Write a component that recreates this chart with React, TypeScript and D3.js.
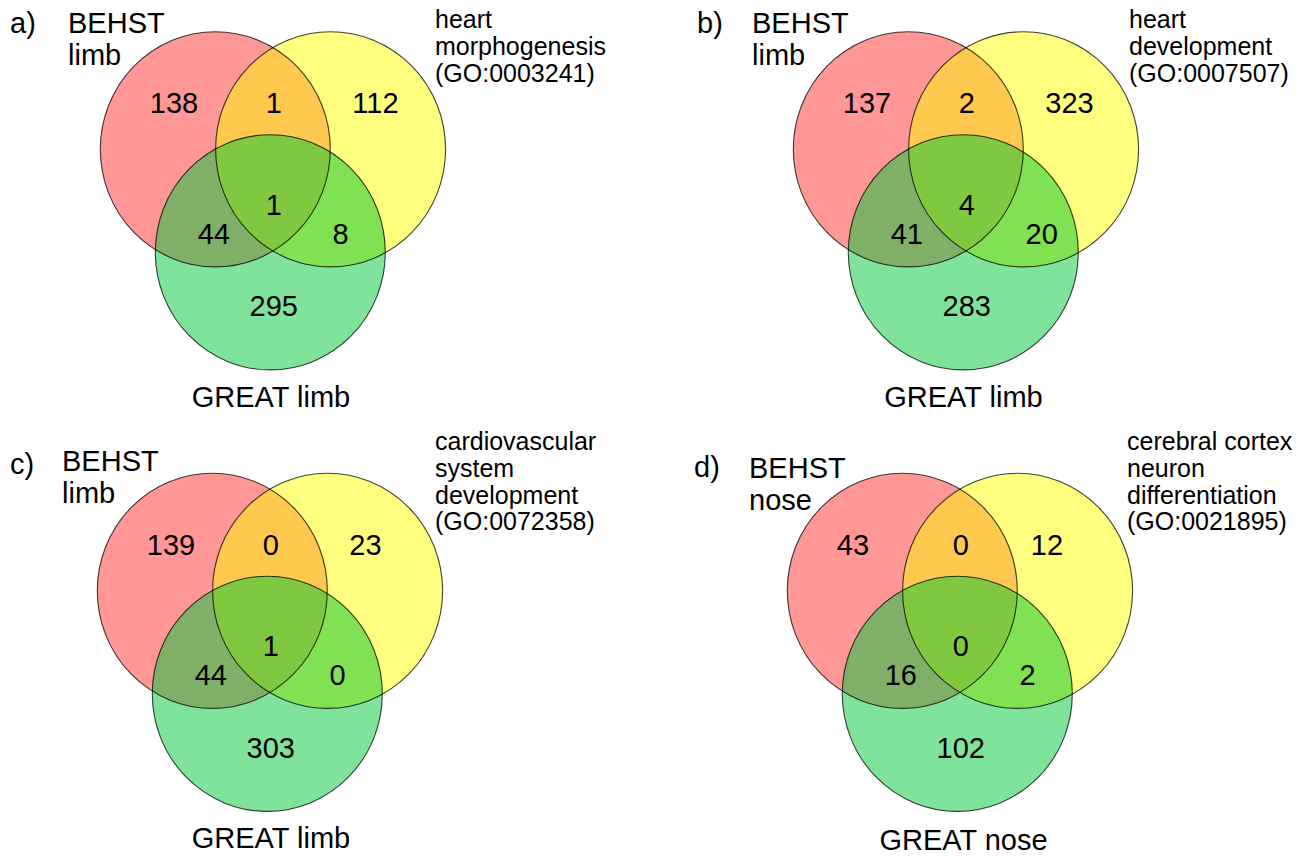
import React from "react";
import * as d3 from "d3";

// ---------- data ----------
const panelLetters = ["a)", "b)", "c)", "d)"];
const setALabels = [["BEHST", "limb"], ["BEHST", "limb"], ["BEHST", "limb"], ["BEHST", "nose"]];
const setBLabels = [
  ["heart", "morphogenesis", "(GO:0003241)"],
  ["heart", "development", "(GO:0007507)"],
  ["cardiovascular", "system", "development", "(GO:0072358)"],
  ["cerebral cortex", "neuron", "differentiation", "(GO:0021895)"],
];
const setCLabels = ["GREAT limb", "GREAT limb", "GREAT limb", "GREAT nose"];

const onlyA = [138, 137, 139, 43];
const onlyB = [112, 323, 23, 12];
const onlyC = [295, 283, 303, 102];
const AB = [1, 2, 0, 0];
const AC = [44, 41, 44, 16];
const BC = [8, 20, 0, 2];
const ABC = [1, 4, 1, 0];

// ---------- layout ----------
const W = 1303, H = 856;
const panelCenters = [
  [215.3, 149.3],
  [908.3, 149.3],
  [212.3, 590.8],
  [902.3, 590.8],
];
const RX = 115, RY = 117.6;
const yellowOffset = [115.3, 0];
const greenOffset = [55, 103];

const letterPos = [[10, 33], [697, 33], [10, 474], [694, 477]];
const aLabelPos = [[68, 33], [752, 33], [62, 471], [749, 478]];
const bLabelPos = [[435, 28.3], [1129, 28.3], [435, 450], [1127, 450]];
const cLabelPos = [[271, 407], [963.5, 407], [271, 848], [963.5, 850]];
const onlyBShift = [0, 0, 0, -8.5];

const colors = {
  A: "#ff9797",
  B: "#ffff7f",
  C: "#80e39b",
  AB: "#ffc84e",
  AC: "#80b068",
  BC: "#80e152",
  ABC: "#80c840",
};

const BIG = 29;
const SMALL = 25;
const FONT = "'Liberation Sans', Arial, sans-serif";

function Panel({ i }: { i: number }) {
  const [cx, cy] = panelCenters[i];
  const x = d3.scaleLinear().domain([0, 1]).range([cx, cx + 1]);
  const y = d3.scaleLinear().domain([0, 1]).range([cy, cy + 1]);
  const A = { cx: x(0), cy: y(0) };
  const B = { cx: x(yellowOffset[0]), cy: y(yellowOffset[1]) };
  const C = { cx: x(greenOffset[0]), cy: y(greenOffset[1]) };
  const id = (s: string) => `p${i}-${s}`;
  const ell = (c: { cx: number; cy: number }, props: any = {}) => (
    <ellipse cx={c.cx} cy={c.cy} rx={RX} ry={RY} {...props} />
  );
  const counts: [number, number, number, string][] = [
    [onlyA[i], -65.5, -36, "start"],
    [AB[i], 58.6, -36, "middle"],
    [onlyB[i], 137 + onlyBShift[i], -36, "start"],
    [ABC[i], 58.5, 65.5, "middle"],
    [AC[i], -1.5, 94.5, "middle"],
    [BC[i], 117.3, 94.5, "start"],
    [onlyC[i], 58.5, 167, "middle"],
  ];
  return (
    <g>
      <defs>
        <clipPath id={id("A")}>{ell(A)}</clipPath>
        <clipPath id={id("B")}>{ell(B)}</clipPath>
      </defs>
      {ell(A, { fill: colors.A })}
      {ell(B, { fill: colors.B })}
      {ell(C, { fill: colors.C })}
      <g clipPath={`url(#${id("A")})`}>
        {ell(B, { fill: colors.AB })}
        {ell(C, { fill: colors.AC })}
      </g>
      <g clipPath={`url(#${id("B")})`}>
        {ell(C, { fill: colors.BC })}
        <g clipPath={`url(#${id("A")})`}>{ell(C, { fill: colors.ABC })}</g>
      </g>
      {[A, B, C].map((c, k) => (
        <g key={k}>{ell(c, { fill: "none", stroke: "#000", strokeOpacity: 0.75, strokeWidth: 1.1 })}</g>
      ))}
      {counts.map(([v, dx, dy, anchor], k) => (
        <text key={k} x={x(dx)} y={y(dy)} textAnchor={anchor} fontSize={BIG} fontFamily={FONT} fill="#000">
          {v}
        </text>
      ))}
      <text x={letterPos[i][0]} y={letterPos[i][1]} fontSize={BIG} fontFamily={FONT}>
        {panelLetters[i]}
      </text>
      {setALabels[i].map((t, k) => (
        <text key={k} x={aLabelPos[i][0]} y={aLabelPos[i][1] + k * 31.7} fontSize={BIG} fontFamily={FONT}>
          {t}
        </text>
      ))}
      {setBLabels[i].map((t, k) => (
        <text key={k} x={bLabelPos[i][0]} y={bLabelPos[i][1] + k * 26.8} fontSize={SMALL} fontFamily={FONT}>
          {t}
        </text>
      ))}
      <text x={cLabelPos[i][0]} y={cLabelPos[i][1]} textAnchor="middle" fontSize={BIG} fontFamily={FONT}>
        {setCLabels[i]}
      </text>
    </g>
  );
}

export default function App() {
  return (
    <svg
      width={W}
      height={H}
      viewBox={`0 0 ${W} ${H}`}
      style={{ position: "absolute", left: 0, top: 0, background: "#fff" }}
    >
      <rect width={W} height={H} fill="#fff" />
      {d3.range(4).map((i) => (
        <Panel key={i} i={i} />
      ))}
    </svg>
  );
}
